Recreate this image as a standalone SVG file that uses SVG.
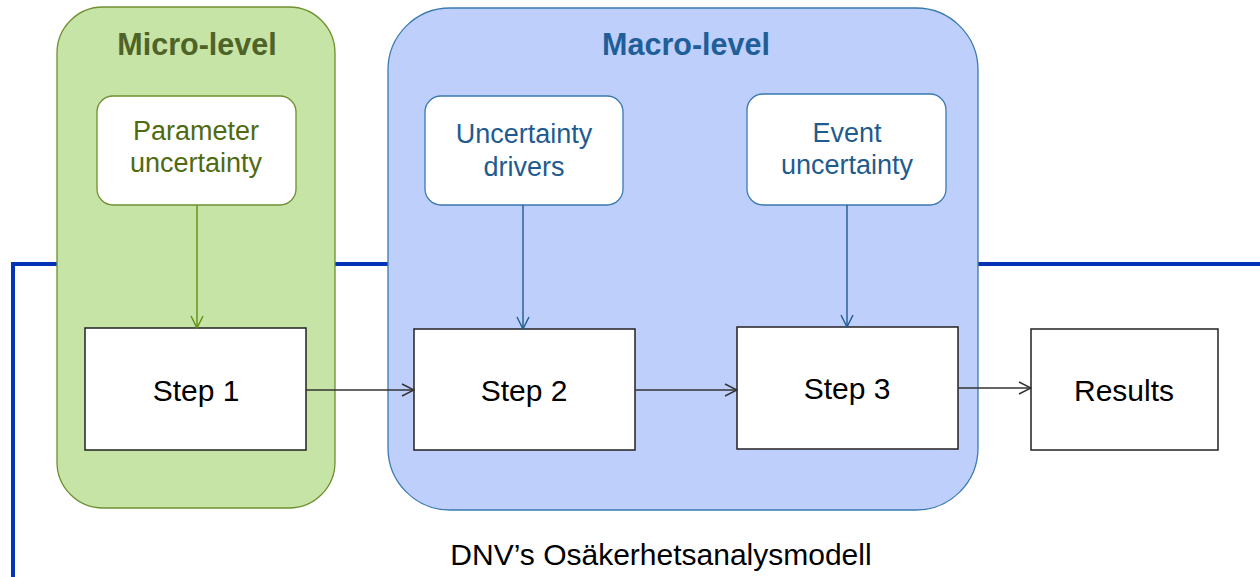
<svg xmlns="http://www.w3.org/2000/svg" width="1260" height="577" viewBox="0 0 1260 577">
<style>
text{font-family:"Liberation Sans",Arial,sans-serif;text-anchor:middle}
.cg{fill:#c5e4a5;stroke:#6f9030;stroke-width:1.3}
.cb{fill:#bfcffc;stroke:#3a7ab0;stroke-width:1.3}
.ig{fill:#fff;stroke:#6f9030;stroke-width:1.3}
.ib{fill:#fff;stroke:#3a7ab0;stroke-width:1.3}
.st{fill:#fff;stroke:#222;stroke-width:1.5}
.tg{fill:#4f6a10;font-size:27px}
.tb{fill:#1f5b8f;font-size:27px}
.hd{font-size:30.5px;font-weight:bold}
.sl{fill:#000;font-size:30px}
.k{stroke:#333;stroke-width:1.4;fill:none}
</style>
<defs>
<marker id="ak" markerWidth="14" markerHeight="14" refX="13" refY="7" orient="auto" markerUnits="userSpaceOnUse"><path d="M1,1 L13,7 L1,13" fill="none" stroke="#333" stroke-width="1.4"/></marker>
<marker id="ag" markerWidth="14" markerHeight="14" refX="13" refY="7" orient="auto" markerUnits="userSpaceOnUse"><path d="M1,1 L13,7 L1,13" fill="none" stroke="#5f9010" stroke-width="1.4"/></marker>
<marker id="ab" markerWidth="14" markerHeight="14" refX="13" refY="7" orient="auto" markerUnits="userSpaceOnUse"><path d="M1,1 L13,7 L1,13" fill="none" stroke="#1f5b8f" stroke-width="1.4"/></marker>
</defs>
<rect width="1260" height="577" fill="#fff"/>
<path d="M13,577 V264 H1260" fill="none" stroke="#0433b8" stroke-width="4"/>
<g id="micro"><rect class="cg" x="57" y="7" width="278" height="501" rx="46"/><text class="hd" x="197" y="55" fill="#4f6228">Micro-level</text></g>
<g id="macro"><rect class="cb" x="388" y="8" width="590" height="502" rx="62"/><text class="hd" x="686" y="55" fill="#1f5f99">Macro-level</text></g>
<g id="param"><rect class="ig" x="97" y="96" width="199" height="109" rx="16"/><text class="tg" x="196" y="140">Parameter</text><text class="tg" x="196" y="172">uncertainty</text></g>
<g id="drivers"><rect class="ib" x="425" y="96" width="198" height="109" rx="16"/><text class="tb" x="524" y="143">Uncertainty</text><text class="tb" x="524" y="176">drivers</text></g>
<g id="event"><rect class="ib" x="747" y="94" width="199" height="111" rx="16"/><text class="tb" x="847" y="142">Event</text><text class="tb" x="847" y="174">uncertainty</text></g>
<g id="step1"><rect class="st" x="85" y="328" width="221" height="122"/><text class="sl" x="196" y="401">Step 1</text></g>
<g id="step2"><rect class="st" x="414" y="329" width="221" height="121"/><text class="sl" x="524" y="401">Step 2</text></g>
<g id="step3"><rect class="st" x="737" y="327" width="221" height="122"/><text class="sl" x="847" y="399">Step 3</text></g>
<g id="results"><rect class="st" x="1031" y="329" width="187" height="121"/><text class="sl" x="1124" y="401">Results</text></g>
<g id="connectors">
<line x1="197" y1="205" x2="197" y2="328" stroke="#5f9010" stroke-width="1.4" marker-end="url(#ag)"/>
<line x1="523" y1="205" x2="523" y2="329" stroke="#1f5b8f" stroke-width="1.4" marker-end="url(#ab)"/>
<line x1="847" y1="205" x2="847" y2="327" stroke="#1f5b8f" stroke-width="1.4" marker-end="url(#ab)"/>
<line class="k" x1="306" y1="390" x2="414" y2="390" marker-end="url(#ak)"/>
<line class="k" x1="635" y1="390" x2="737" y2="390" marker-end="url(#ak)"/>
<line class="k" x1="958" y1="388" x2="1031" y2="388" marker-end="url(#ak)"/>
</g>
<text x="661" y="565" font-size="30" fill="#000">DNV’s Osäkerhetsanalysmodell</text>
</svg>
